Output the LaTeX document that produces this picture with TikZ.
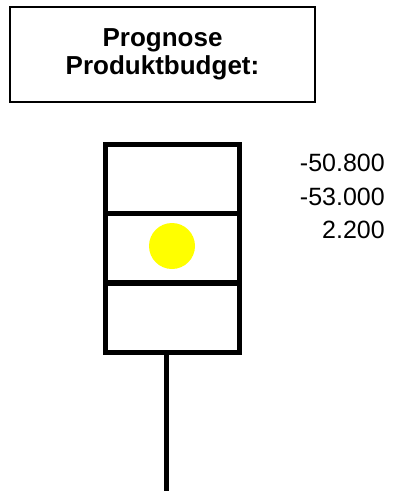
\documentclass[tikz,border=0pt]{standalone}
\usepackage{fontspec}
\setmainfont{Liberation Sans}
\usetikzlibrary{positioning,calc}
\definecolor{lampYellow}{HTML}{FFFF00}

\begin{document}
\begin{tikzpicture}[x=0.75pt, y=-0.75pt,
      titlebox/.style={draw, line width=1.1pt, minimum width=228.75pt, minimum height=71.25pt,
        align=center, font=\fontsize{19.5pt}{21pt}\selectfont\bfseries},
      cell/.style={draw, line width=3.75pt, minimum width=100.5pt, minimum height=51.75pt, inner sep=0pt},
      lamp/.style={circle, fill=lampYellow, minimum size=34.5pt, inner sep=0pt},
      figures/.style={align=right, inner sep=0pt, font=\fontsize{18.75pt}{25pt}\selectfont}]
    \useasboundingbox (0,0) rectangle (397,496);
    % ---- heading
    \node[titlebox] (title) at (162.5,54.5) {Prognose\\Produktbudget:};
    % ---- the traffic light
    \foreach \i/\y in {1/179,2/248,3/317.5} {
      \node[cell] (cell\i) at (172,\y) {};
    }
    \node[lamp] (lamp) at (172,246) {};
    \coordinate (foot) at (166,491);
    \draw[line width=3.75pt] (foot |- cell3.south) -- (foot);
    % ---- the figures
    \node[figures, anchor=north east] (plan) at (385,154) {-50.800\\-53.000\\2.200};
  \end{tikzpicture}
\end{document}
